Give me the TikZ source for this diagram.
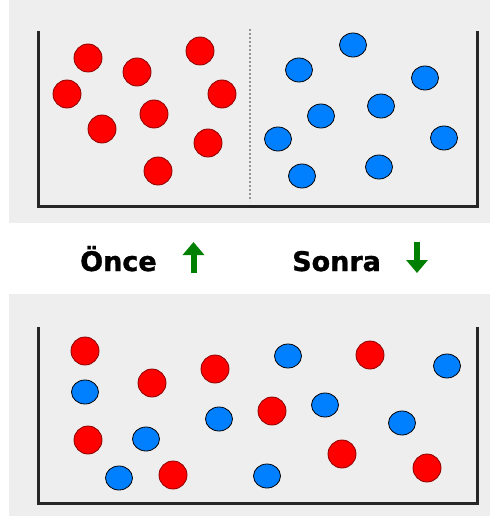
\documentclass[tikz,border=0pt]{standalone}
\usepackage{fontspec}
\setmainfont{DejaVu Sans}
\newfontfamily\heavyfont[FakeBold=1.2]{DejaVu Sans Bold}
\usetikzlibrary{arrows.meta}

\definecolor{panelgray}{RGB}{238,238,238}
\definecolor{ballred}{RGB}{255,0,0}
\definecolor{ballblue}{RGB}{0,128,255}
\definecolor{arrowgreen}{RGB}{0,128,0}

\tikzset{
  panel/.style={fill=panelgray, draw=none},
  wall/.style={line width=3pt, black!85, line join=miter},
  redball/.style={fill=ballred, draw=ballred!55!black, line width=0.8pt},
  blueball/.style={fill=ballblue, draw=black, line width=0.8pt},
  wordlabel/.style={font=\heavyfont\fontsize{27}{27}\selectfont, anchor=base west, inner sep=0pt},
  greenarrow/.style={arrowgreen, line width=6pt, -{Triangle[width=21pt,length=13pt]}}
}

\begin{document}
\begin{tikzpicture}[x=1pt, y=-1pt]
    \useasboundingbox (0,0) rectangle (490,516);

    % panels
    \fill[panel] (9,0) rectangle (490,223);
    \fill[panel] (9,294) rectangle (490,516);

    % top container, separated
    \draw[wall] (38,31) -- (38,206) -- (477,206) -- (477,31);
    \draw[gray!85, line width=1.2pt, dash pattern=on 2pt off 2pt] (250,29) -- (250,201);
    \foreach \x/\y in {88/58, 137/72, 200/51, 67/94, 222/94, 154/114, 102/129, 208/143, 158/171}
        \filldraw[redball] (\x,\y) circle (14pt);
    \foreach \x/\y in {353/45, 299/70, 425/78, 381/106, 321/116, 278/139, 444/138, 379/167, 302/176}
        \filldraw[blueball] (\x,\y) ellipse [x radius=13.5pt, y radius=12pt];

    % labels
    \node[wordlabel] (before) at (80,271) {Önce};
    \node[wordlabel] (after) at (292,271) {Sonra};
    \coordinate (upTail) at (193.5,273);
    \coordinate (upHead) at (193.5,242);
    \coordinate (downTail) at (417,242);
    \coordinate (downHead) at (417,273);
    \draw[greenarrow] (upTail) -- (upHead);
    \draw[greenarrow] (downTail) -- (downHead);

    % bottom container, mixed
    \draw[wall] (38,327) -- (38,503) -- (477,503) -- (477,327);
    \foreach \x/\y in {85/351, 152/383, 215/369, 370/355, 88/440, 272/411, 173/475, 342/454, 427/468}
        \filldraw[redball] (\x,\y) circle (14pt);
    \foreach \x/\y in {288/356, 447/366, 85/392, 325/405, 219/419, 402/423, 146/439, 119/478, 267/476}
        \filldraw[blueball] (\x,\y) ellipse [x radius=13.5pt, y radius=12pt];
\end{tikzpicture}
\end{document}
